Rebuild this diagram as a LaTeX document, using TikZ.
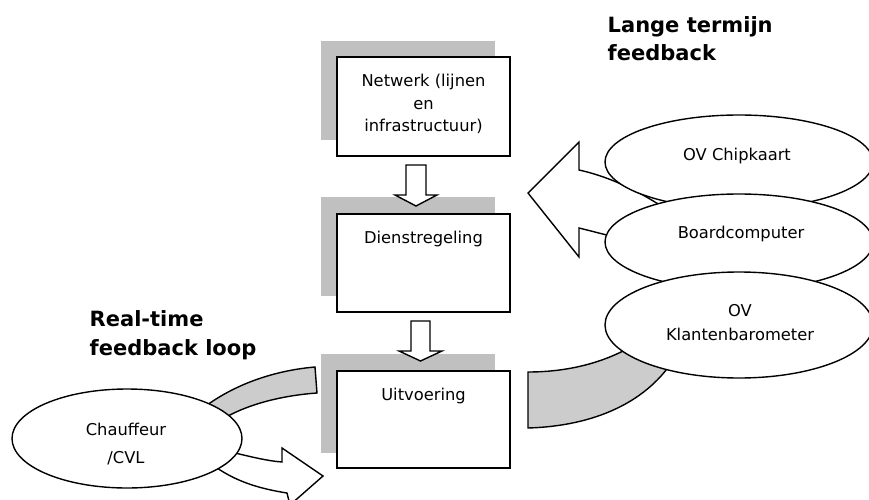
\documentclass[tikz,border=0pt]{standalone}
\usepackage{fontspec}
\setmainfont{DejaVu Sans}
\usetikzlibrary{shapes.geometric}
\definecolor{shadowgray}{HTML}{C0C0C0}
\definecolor{bandgray}{HTML}{CCCCCC}
\begin{document}
\begin{tikzpicture}[x=1pt,y=-1pt,
  line width=1.4pt, line join=miter,
  boxnode/.style={draw=black, fill=white, minimum width=173pt, minimum height=98pt, inner sep=0pt},
  ovalnode/.style={draw=black, fill=white, ellipse, inner sep=0pt},
  lbl/.style={font=\fontsize{16.3}{22.5}\selectfont, align=center, anchor=base, inner sep=0pt},
  title/.style={font=\bfseries\fontsize{21}{28.5}\selectfont, align=left, anchor=base west, inner sep=0pt},
  blockarrow/.style={draw=black, fill=white},
  band/.style={draw=black, fill=bandgray}]
\path[use as bounding box] (0,0) rectangle (869,500);

% shadows of the boxes
\fill[shadowgray] (321,41) rectangle (495,140);
\fill[shadowgray] (321,197) rectangle (495,296);
\fill[shadowgray] (321,354) rectangle (495,453);

% boxes
\node[boxnode, minimum height=99pt] (net) at (423.5,106.5) {};
\node[boxnode] (dien) at (423.5,263) {};
\node[boxnode, minimum height=97pt] (uitv) at (423.5,419.5) {};
\node[lbl] (nettext) at (423.5,131.7) {Netwerk (lijnen\\en\\infrastructuur)};
\node[lbl] (dientext) at (423.5,243) {Dienstregeling};
\node[lbl] (uitvtext) at (423.5,400.5) {Uitvoering};

% block arrows between the boxes
\draw[blockarrow] (406,165) -- (426,165) -- (426,195) -- (437,195) -- (416,206) -- (395,195) -- (406,195) -- cycle;
\draw[blockarrow] (411,321) -- (430,321) -- (430,351) -- (442,351) -- (420.5,361) -- (399,351) -- (411,351) -- cycle;

% real-time loop
\draw[band] (210,403) .. controls (242,381) and (280,370) .. (315,367) -- (317,393)
  .. controls (288,395) and (255,402) .. (230,415) -- (200,432) -- (185,418) -- cycle;
\draw[blockarrow] (235,453) .. controls (252,457) and (268,461) .. (282,462) -- (282,448) -- (323,476)
  -- (290,505) -- (287,493) .. controls (255,488) and (235,480) .. (217,468) -- (195,460) -- (215,445) -- cycle;
\node[ovalnode, minimum width=230pt, minimum height=99pt] (chauf) at (127,438.5) {};
\node[lbl] (chauftext) at (126,435) {Chauffeur};
\node[lbl] (cvltext) at (126,463) {/CVL};

% long-term feedback
\draw[blockarrow] (528,193) -- (579,142) -- (579,170) .. controls (615,178) and (650,196) .. (690,226)
  -- (690,250) .. controls (640,245) and (600,233) .. (579,228) -- (579,257) -- cycle;
\draw[band] (528,428) .. controls (595,426) and (645,402) .. (672,362) -- (700,320) -- (650,320)
  -- (625,350) .. controls (598,364) and (565,372) .. (528,372) -- cycle;
\node[ovalnode, minimum width=268pt, minimum height=94pt] (chip) at (739,162) {};
\node[lbl] (chiptext) at (737,160) {OV Chipkaart};
\node[ovalnode, minimum width=268pt, minimum height=96pt] (board) at (739,242) {};
\node[lbl] (boardtext) at (741,238.5) {Boardcomputer};
\node[ovalnode, minimum width=268pt, minimum height=106pt] (klant) at (739,325) {};
\node[lbl, font=\fontsize{16.3}{23.3}\selectfont] (klanttext) at (740,340) {OV\\Klantenbarometer};

% titles
\node[title] (longtitle) at (607,61) {Lange termijn\\feedback};
\node[title] (rttitle) at (89,355) {Real-time\\feedback loop};
\end{tikzpicture}
\end{document}
